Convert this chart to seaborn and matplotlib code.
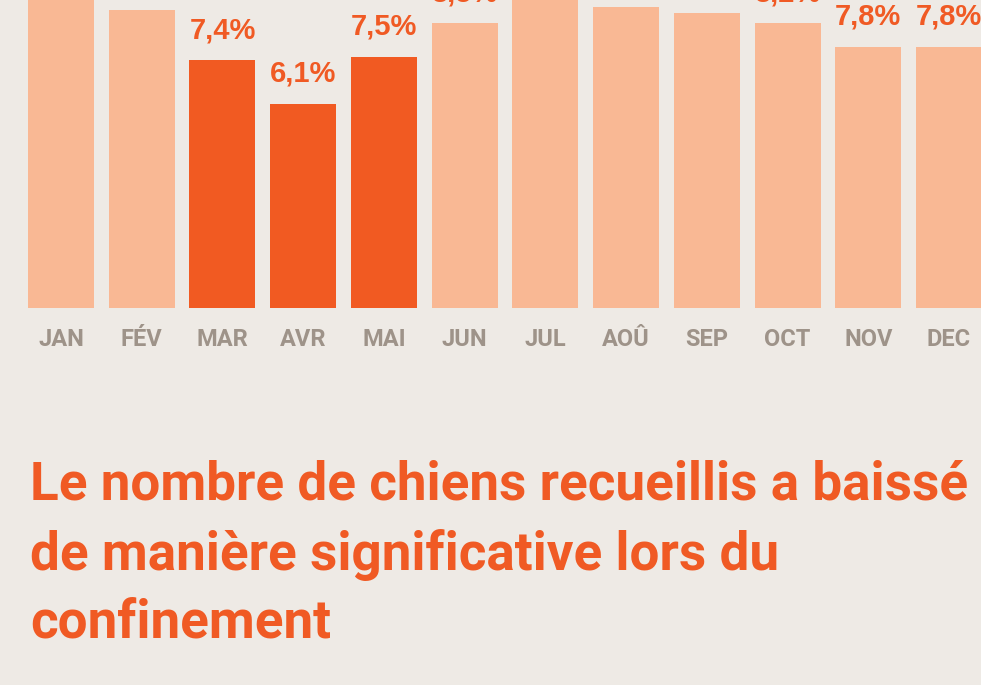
import matplotlib
matplotlib.use("Agg")
import matplotlib.pyplot as plt
from matplotlib import font_manager
import seaborn as sns
import pandas as pd

# ---- data ----
months = ["JAN", "FÉV", "MAR", "AVR", "MAI", "JUN", "JUL", "AOÛ", "SEP", "OCT", "NOV", "DEC"]
values = [9.6, 8.9, 7.4, 6.1, 7.5, 8.5, 9.7, 9.0, 8.8, 8.5, 7.8, 7.8]
value_labels = ["9,6%", "8,9%", "7,4%", "6,1%", "7,5%", "8,5%", "9,7%", "9,0%", "8,8%", "8,2%", "7,8%", "7,8%"]
confinement = [False, False, True, True, True, False, False, False, False, False, False, False]
title_lines = ["Le nombre de chiens recueillis a baissé",
               "de manière significative lors du",
               "confinement"]

BG = "#EEEAE5"
LIGHT = "#F9B894"
DARK = "#F15A22"
ORANGE = "#F05A24"
GREY = "#9E9389"

names = {f.name for f in font_manager.fontManager.ttflist}
NARROW = "Liberation Sans Narrow" if "Liberation Sans Narrow" in names else "Roboto"
WIDE = "Liberation Sans"

sns.set_theme(style="white")
plt.rcParams["font.family"] = [NARROW, "DejaVu Sans"]

W, H = 981, 685
fig = plt.figure(figsize=(W / 100, H / 100), dpi=100, facecolor=BG)

# axes geometry (pixels): bar centres 61 .. 949, baseline at y=308, 33.5 px per %
step = (949 - 61) / 11
left_px = 61 - 0.5 * step
width_px = 12 * step
base_px = 308
ymax = 10.0
height_px = 33.5 * ymax
ax = fig.add_axes([left_px / W, (H - base_px) / H, width_px / W, height_px / H])
ax.set_facecolor(BG)

df = pd.DataFrame({"mois": months, "valeur": values})
palette = [DARK if c else LIGHT for c in confinement]
sns.barplot(data=df, x="mois", y="valeur", hue="mois", palette=palette,
            width=66 / step, legend=False, ax=ax, saturation=1,
            edgecolor="none", linewidth=0)

ax.set_xlim(-0.5, 11.5)
ax.set_ylim(0, ymax)
for s in ax.spines.values():
    s.set_visible(False)
ax.set_yticks([])
ax.set_xlabel("")
ax.set_ylabel("")
ax.tick_params(axis="x", length=0, pad=38 * 0.72)
for lab in ax.get_xticklabels():
    lab.set_verticalalignment("baseline")
    lab.set_fontsize(17)
    lab.set_fontweight("bold")
    lab.set_color(GREY)
    lab.set_family([NARROW, "DejaVu Sans"])

for i, (v, t) in enumerate(zip(values, value_labels)):
    ax.annotate(t, xy=(i, v), xytext=(0, 22 * 0.72), textcoords="offset points",
                ha="center", va="baseline", fontsize=21, fontweight="bold",
                color=ORANGE, family=[WIDE, "DejaVu Sans"], annotation_clip=False)

baselines = [500, 570, 637]
for line, b in zip(title_lines, baselines):
    fig.text(30 / W, (H - b) / H, line, ha="left", va="baseline",
             fontsize=38.2, fontweight="bold", color=ORANGE,
             family=[NARROW, "DejaVu Sans"])

fig.savefig("out.png", dpi=100, facecolor=BG)
